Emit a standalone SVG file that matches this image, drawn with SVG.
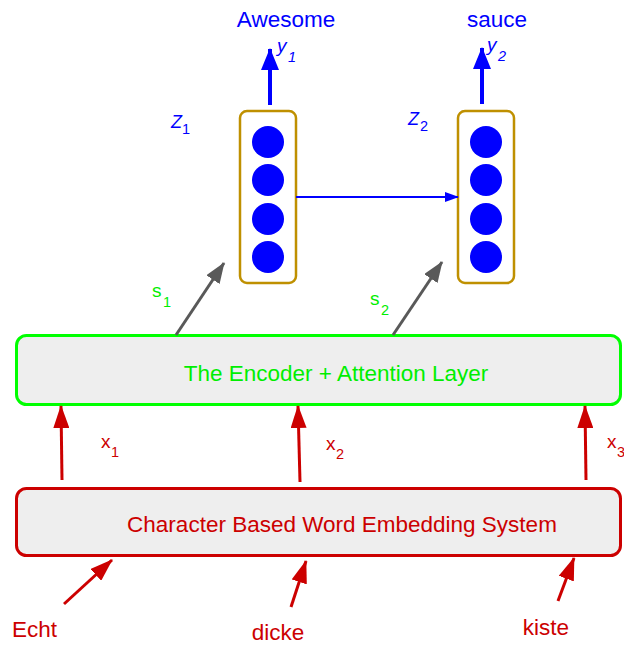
<svg xmlns="http://www.w3.org/2000/svg" width="624" height="646" viewBox="0 0 624 646">
<style>
text{font-family:"Liberation Sans",Arial,sans-serif;}
.blue{fill:#0000ff;}
.green{fill:#00ee00;}
.red{fill:#cc0000;}
.cell{fill:#0000ff;}
.stack{fill:#ffffff;stroke:#bf9000;stroke-width:2.5;}
.word{font-size:22.5px;}
.lbl{font-size:19px;}
.sub{font-size:14.5px;}
</style>
<defs>
<marker id="mb" markerWidth="14" markerHeight="10" refX="13" refY="5" orient="auto" markerUnits="userSpaceOnUse" viewBox="0 0 14 10"><path d="M0,0 L14,5 L0,10 z" fill="#0000ff"/></marker>
<marker id="mbig" markerWidth="22" markerHeight="18" refX="21" refY="9" orient="auto" markerUnits="userSpaceOnUse" viewBox="0 0 22 18"><path d="M0,0 L22,9 L0,18 z" fill="#0000ff"/></marker>
<marker id="mg" markerWidth="21" markerHeight="16" refX="20" refY="8" orient="auto" markerUnits="userSpaceOnUse" viewBox="0 0 21 16"><path d="M0,0 L21,8 L0,16 z" fill="#595959"/></marker>
<marker id="mr" markerWidth="23" markerHeight="16" refX="22" refY="8" orient="auto" markerUnits="userSpaceOnUse" viewBox="0 0 23 16"><path d="M0,0 L23,8 L0,16 z" fill="#cc0000"/></marker>
</defs>

<g id="encoder">
<rect x="16.5" y="335.5" width="604" height="69" rx="10" fill="#eeeeee" stroke="#00ff00" stroke-width="3"/>
<text x="336" y="381" text-anchor="middle" class="word green">The Encoder + Attention Layer</text>
</g>

<g id="embedding">
<rect x="16.5" y="488.5" width="604" height="67" rx="10" fill="#eeeeee" stroke="#cc0000" stroke-width="3"/>
<text x="342" y="532" text-anchor="middle" class="word red">Character Based Word Embedding System</text>
</g>

<g id="z1">
<rect x="240" y="111" width="56" height="172" rx="7" class="stack"/>
<circle cx="268" cy="142" r="16" class="cell"/>
<circle cx="268" cy="180" r="16" class="cell"/>
<circle cx="268" cy="219" r="16" class="cell"/>
<circle cx="268" cy="257" r="16" class="cell"/>
<text x="171" y="128" font-size="18" font-style="italic" class="blue">Z</text>
<text x="182" y="134" class="sub blue">1</text>
</g>

<g id="z2">
<rect x="458" y="111" width="56" height="172" rx="7" class="stack"/>
<circle cx="486" cy="142" r="16" class="cell"/>
<circle cx="486" cy="180" r="16" class="cell"/>
<circle cx="486" cy="219" r="16" class="cell"/>
<circle cx="486" cy="257" r="16" class="cell"/>
<text x="408" y="125" font-size="18" font-style="italic" class="blue">Z</text>
<text x="420" y="131" class="sub blue">2</text>
</g>

<g id="outputs">
<text x="286" y="27" text-anchor="middle" class="word blue">Awesome</text>
<text x="277" y="52" font-size="19" font-style="italic" class="blue">y</text>
<text x="288" y="62" class="sub blue" font-style="italic">1</text>
<text x="497" y="27" text-anchor="middle" class="word blue">sauce</text>
<text x="487" y="51" font-size="19" font-style="italic" class="blue">y</text>
<text x="498" y="61" class="sub blue" font-style="italic">2</text>
</g>

<g id="labels">
<text x="152" y="297" class="lbl green">s</text>
<text x="163" y="307" class="sub green">1</text>
<text x="370" y="305" class="lbl green">s</text>
<text x="381" y="315" class="sub green">2</text>
<text x="101" y="448" class="lbl red">x</text>
<text x="111" y="457" class="sub red">1</text>
<text x="326" y="450" class="lbl red">x</text>
<text x="336" y="459" class="sub red">2</text>
<text x="607" y="448" class="lbl red">x</text>
<text x="617" y="457" class="sub red">3</text>
<text x="12" y="637" class="word red">Echt</text>
<text x="278" y="640" text-anchor="middle" class="word red">dicke</text>
<text x="546" y="635" text-anchor="middle" class="word red">kiste</text>
</g>

<g id="connectors" fill="none">
<line x1="296" y1="197" x2="458" y2="197" stroke="#0000ff" stroke-width="2" marker-end="url(#mb)"/>
<line x1="270" y1="105" x2="270" y2="49" stroke="#0000ff" stroke-width="4" marker-end="url(#mbig)"/>
<line x1="482" y1="104" x2="482" y2="48" stroke="#0000ff" stroke-width="4" marker-end="url(#mbig)"/>
<line x1="176" y1="335" x2="224" y2="263" stroke="#595959" stroke-width="3" marker-end="url(#mg)"/>
<line x1="393" y1="335" x2="442" y2="262" stroke="#595959" stroke-width="3" marker-end="url(#mg)"/>
<line x1="62" y1="480" x2="61" y2="406" stroke="#cc0000" stroke-width="3" marker-end="url(#mr)"/>
<line x1="300" y1="482" x2="298" y2="406" stroke="#cc0000" stroke-width="3" marker-end="url(#mr)"/>
<line x1="586" y1="480" x2="585" y2="406" stroke="#cc0000" stroke-width="3" marker-end="url(#mr)"/>
<line x1="64" y1="604" x2="112" y2="560" stroke="#cc0000" stroke-width="3" marker-end="url(#mr)"/>
<line x1="291" y1="607" x2="306" y2="561" stroke="#cc0000" stroke-width="3" marker-end="url(#mr)"/>
<line x1="558" y1="601" x2="574" y2="558" stroke="#cc0000" stroke-width="3" marker-end="url(#mr)"/>
</g>
</svg>
